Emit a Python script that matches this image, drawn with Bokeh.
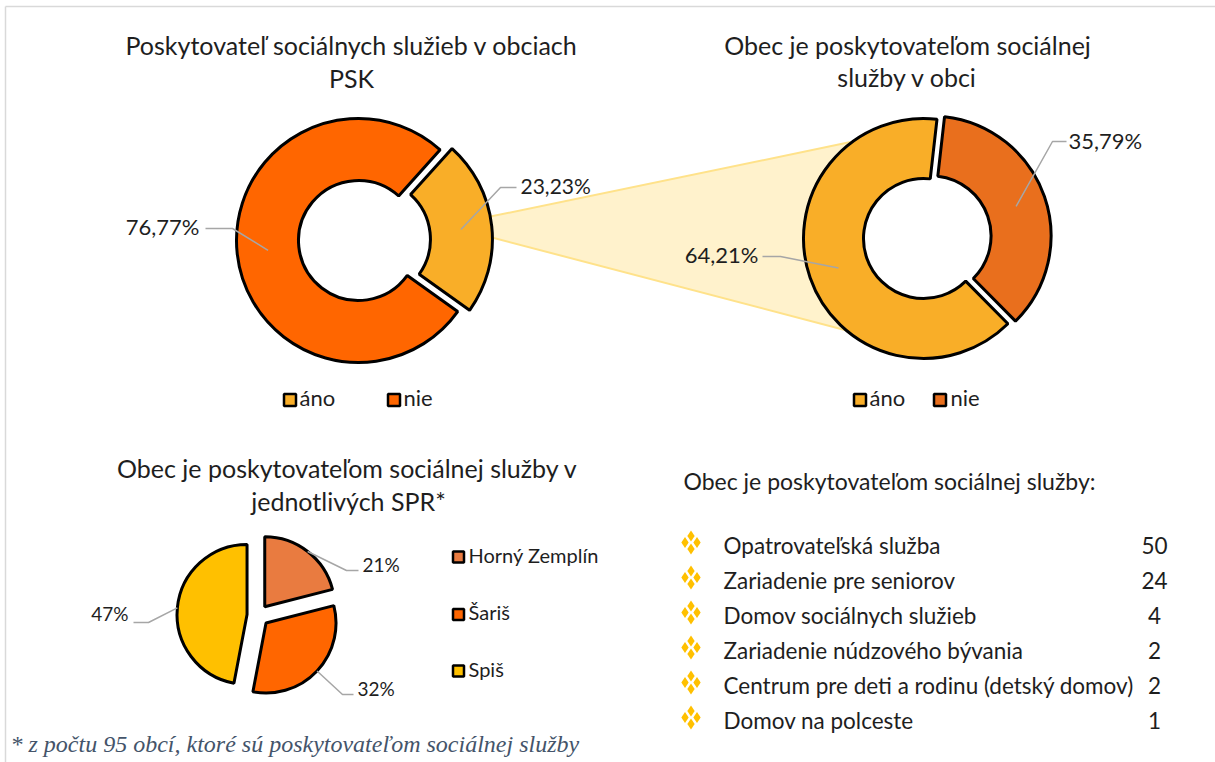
import math
from bokeh.plotting import figure
from bokeh.models import Range1d
from bokeh.core.properties import value
from bokeh.embed import file_html
from bokeh.resources import INLINE

# ---------------- data ----------------
psk_labels = ["áno", "nie"]
psk_values = [23.23, 76.77]
psk_texts = ["23,23%", "76,77%"]

obec_labels = ["áno", "nie"]
obec_values = [64.21, 35.79]
obec_texts = ["64,21%", "35,79%"]

spr_labels = ["Horný Zemplín", "Šariš", "Spiš"]
spr_values = [21, 32, 47]
spr_texts = ["21%", "32%", "47%"]

service_names = ["Opatrovateľská služba", "Zariadenie pre seniorov", "Domov sociálnych služieb",
                 "Zariadenie núdzového bývania", "Centrum pre deti a rodinu (detský domov)",
                 "Domov na polceste"]
service_counts = [50, 24, 4, 2, 2, 1]

title1 = ["Poskytovateľ sociálnych služieb v obciach", "PSK"]
title2 = ["Obec je poskytovateľom sociálnej", "služby v obci"]
title3 = ["Obec je poskytovateľom sociálnej služby v", "jednotlivých SPR*"]
list_title = "Obec je poskytovateľom sociálnej služby:"
footnote = "* z počtu 95 obcí, ktoré sú poskytovateľom sociálnej služby"

# ---------------- styles ----------------
C_ANO = "#F9AE28"
C_NIE = "#FF6600"
C_NIE2 = "#E96F1D"
C_HZ = "#E97B40"
C_SAR = "#FF6600"
C_SPIS = "#FFC000"
TXT = "#1E1E1E"
LEAD = "#A6A6A6"
FONT = value("Lato")

W, H = 1215, 762


def X(px):
    return px


def Y(py):
    return H - py


p = figure(width=W, height=H, x_range=Range1d(0, W), y_range=Range1d(0, H),
           x_axis_type=None, y_axis_type=None, toolbar_location=None,
           output_backend="svg", min_border=0)
p.grid.visible = False
p.outline_line_color = None
p.background_fill_color = "white"

# page frame lines
p.segment(x0=[X(5), X(5)], y0=[Y(6), Y(6)], x1=[X(1215), X(5)], y1=[Y(6), Y(762)],
          line_color="#D9D9D9", line_width=1.5)


def slices(values, start_cw):
    tot = float(sum(values))
    a = start_cw
    out = []
    for v in values:
        span = 360.0 * v / tot
        out.append((a, a + span))
        a += span
    return out


def draw_ring(cx, cy, r_in, r_out, values, colors, start_cw, explode):
    geo = []
    for (t1, t2), col, d in zip(slices(values, start_cw), colors, explode):
        b = math.radians((t1 + t2) / 2)
        ox = cx + d * math.sin(b)
        oy = cy - d * math.cos(b)
        sa = math.radians(90 - t2)
        ea = math.radians(90 - t1)
        if r_in > 0:
            p.annular_wedge(x=[X(ox)], y=[Y(oy)], inner_radius=r_in, outer_radius=r_out,
                            inner_radius_units="screen", outer_radius_units="screen",
                            start_angle=sa, end_angle=ea,
                            fill_color=col, line_color="black", line_width=3)
        else:
            p.wedge(x=[X(ox)], y=[Y(oy)], radius=r_out, radius_units="screen",
                    start_angle=sa, end_angle=ea,
                    fill_color=col, line_color="black", line_width=3)
        geo.append((ox, oy, b))
    return geo


def leader(pts):
    p.line(x=[X(a) for a, _ in pts], y=[Y(b) for _, b in pts], line_color=LEAD, line_width=1.5)


def txt(x, y, s, size="22px", align="left", color=TXT, font=FONT, style="normal"):
    p.text(x=[X(x)], y=[Y(y - 2.5)], text=[s], text_font=font, text_font_size=size,
           text_align=align, text_baseline="middle", text_color=color, text_font_style=style)


# ---------------- connecting band ----------------
band_top = [(480, 218.1), (850, 141.6)]
band_bot = [(480, 234.0), (850, 331.0)]
p.patch(x=[X(480), X(850), X(850), X(480)], y=[Y(218.1), Y(141.6), Y(331.0), Y(234.0)],
        fill_color="#FFF2CC", line_color=None)
p.line(x=[X(a) for a, _ in band_top], y=[Y(b) for _, b in band_top], line_color="#FFE28A", line_width=2)
p.line(x=[X(a) for a, _ in band_bot], y=[Y(b) for _, b in band_bot], line_color="#FFE28A", line_width=2)

# ---------------- donut 1 ----------------
c1x, c1y, r1i, r1o = 358, 240, 60, 122
g1 = draw_ring(c1x, c1y, r1i, r1o, psk_values, [C_ANO, C_NIE], 42.0, [12, 0])
mid = (r1i + r1o) / 2
ox, oy, b = g1[0]
leader([(ox + mid * math.sin(b), oy - mid * math.cos(b)), (500, 187), (516, 187)])
txt(520, 187, psk_texts[0], size="21px")
ox, oy, b = g1[1]
leader([(ox + mid * math.sin(b), oy - mid * math.cos(b)), (232, 228), (205, 228)])
txt(199, 228, psk_texts[1], align="right")

# ---------------- donut 2 ----------------
c2x, c2y, r2i, r2o = 923, 238, 60, 120
g2 = draw_ring(c2x, c2y, r2i, r2o, obec_values, [C_ANO, C_NIE2], 135.3, [0, 8])
mid = (r2i + r2o) / 2
ox, oy, b = g2[0]
leader([(ox + mid * math.sin(b), oy - mid * math.cos(b)), (780, 256), (762, 256)])
txt(758, 256, obec_texts[0], align="right")
ox, oy, b = g2[1]
leader([(ox + mid * math.sin(b), oy - mid * math.cos(b)), (1052, 141), (1066, 141)])
txt(1068, 142, obec_texts[1])

# ---------------- titles ----------------
TS = "25px"
txt(351, 47, title1[0], size=TS, align="center")
txt(351, 80, title1[1], size=TS, align="center")
txt(907, 47, title2[0], size=TS, align="center")
txt(907, 79, title2[1], size=TS, align="center")
txt(347, 470, title3[0], size=TS, align="center")
txt(348, 503, title3[1], size=TS, align="center")


# ---------------- legends ----------------
def legend_sq(x, y, col, s=12):
    p.rect(x=[X(x)], y=[Y(y)], width=s, height=s, width_units="screen", height_units="screen",
           fill_color=col, line_color="black", line_width=2.5)


legend_sq(289.5, 399.5, C_ANO)
txt(299, 399, psk_labels[0])
legend_sq(393.5, 399.5, C_NIE)
txt(403, 399, psk_labels[1])

legend_sq(859.5, 399.5, C_ANO)
txt(869, 399, obec_labels[0])
legend_sq(939.5, 399.5, C_NIE2)
txt(950, 399, obec_labels[1])

# ---------------- pie 3 ----------------
c3x, c3y, r3 = 257.5, 615, 70
g3 = draw_ring(c3x, c3y, 0, r3, spr_values, [C_HZ, C_SAR, C_SPIS], 0.0, [11, 11, 11])
edge = [(ox + r3 * math.sin(b), oy - r3 * math.cos(b)) for ox, oy, b in g3]
leader([edge[0], (346, 570), (358, 570)])
txt(362, 566, spr_texts[0], size="19px")
leader([edge[1], (342, 694), (353, 694)])
txt(357, 690, spr_texts[1], size="19px")
leader([edge[2], (148, 622), (133, 622)])
txt(128, 615, spr_texts[2], size="19px", align="right")

for yy, lab, col in zip([556.5, 614, 670.5], spr_labels, [C_HZ, C_SAR, C_SPIS]):
    legend_sq(458, yy, col, s=11)
    txt(468, yy, lab, size="20px")

# ---------------- service list ----------------
txt(683, 483, list_title, size="23px")
row_y = [547, 582, 617, 652, 687, 722]
for yy, name, cnt in zip(row_y, service_names, service_counts):
    by = yy - 5
    p.scatter(x=[X(690.5), X(684.5), X(696.5), X(690.5)], y=[Y(by - 6.5), Y(by), Y(by), Y(by + 6.5)],
              marker="diamond", size=11, fill_color="#FFC000", line_color=None)
    txt(723, yy, name, size="22.5px")
    txt(1154, yy, str(cnt), size="22.5px", align="center")

# ---------------- footnote ----------------
txt(10, 746, footnote, size="24px", color="#44546A", font=value("Liberation Serif"), style="italic")

open("out.html", "w").write(file_html(p, INLINE))
